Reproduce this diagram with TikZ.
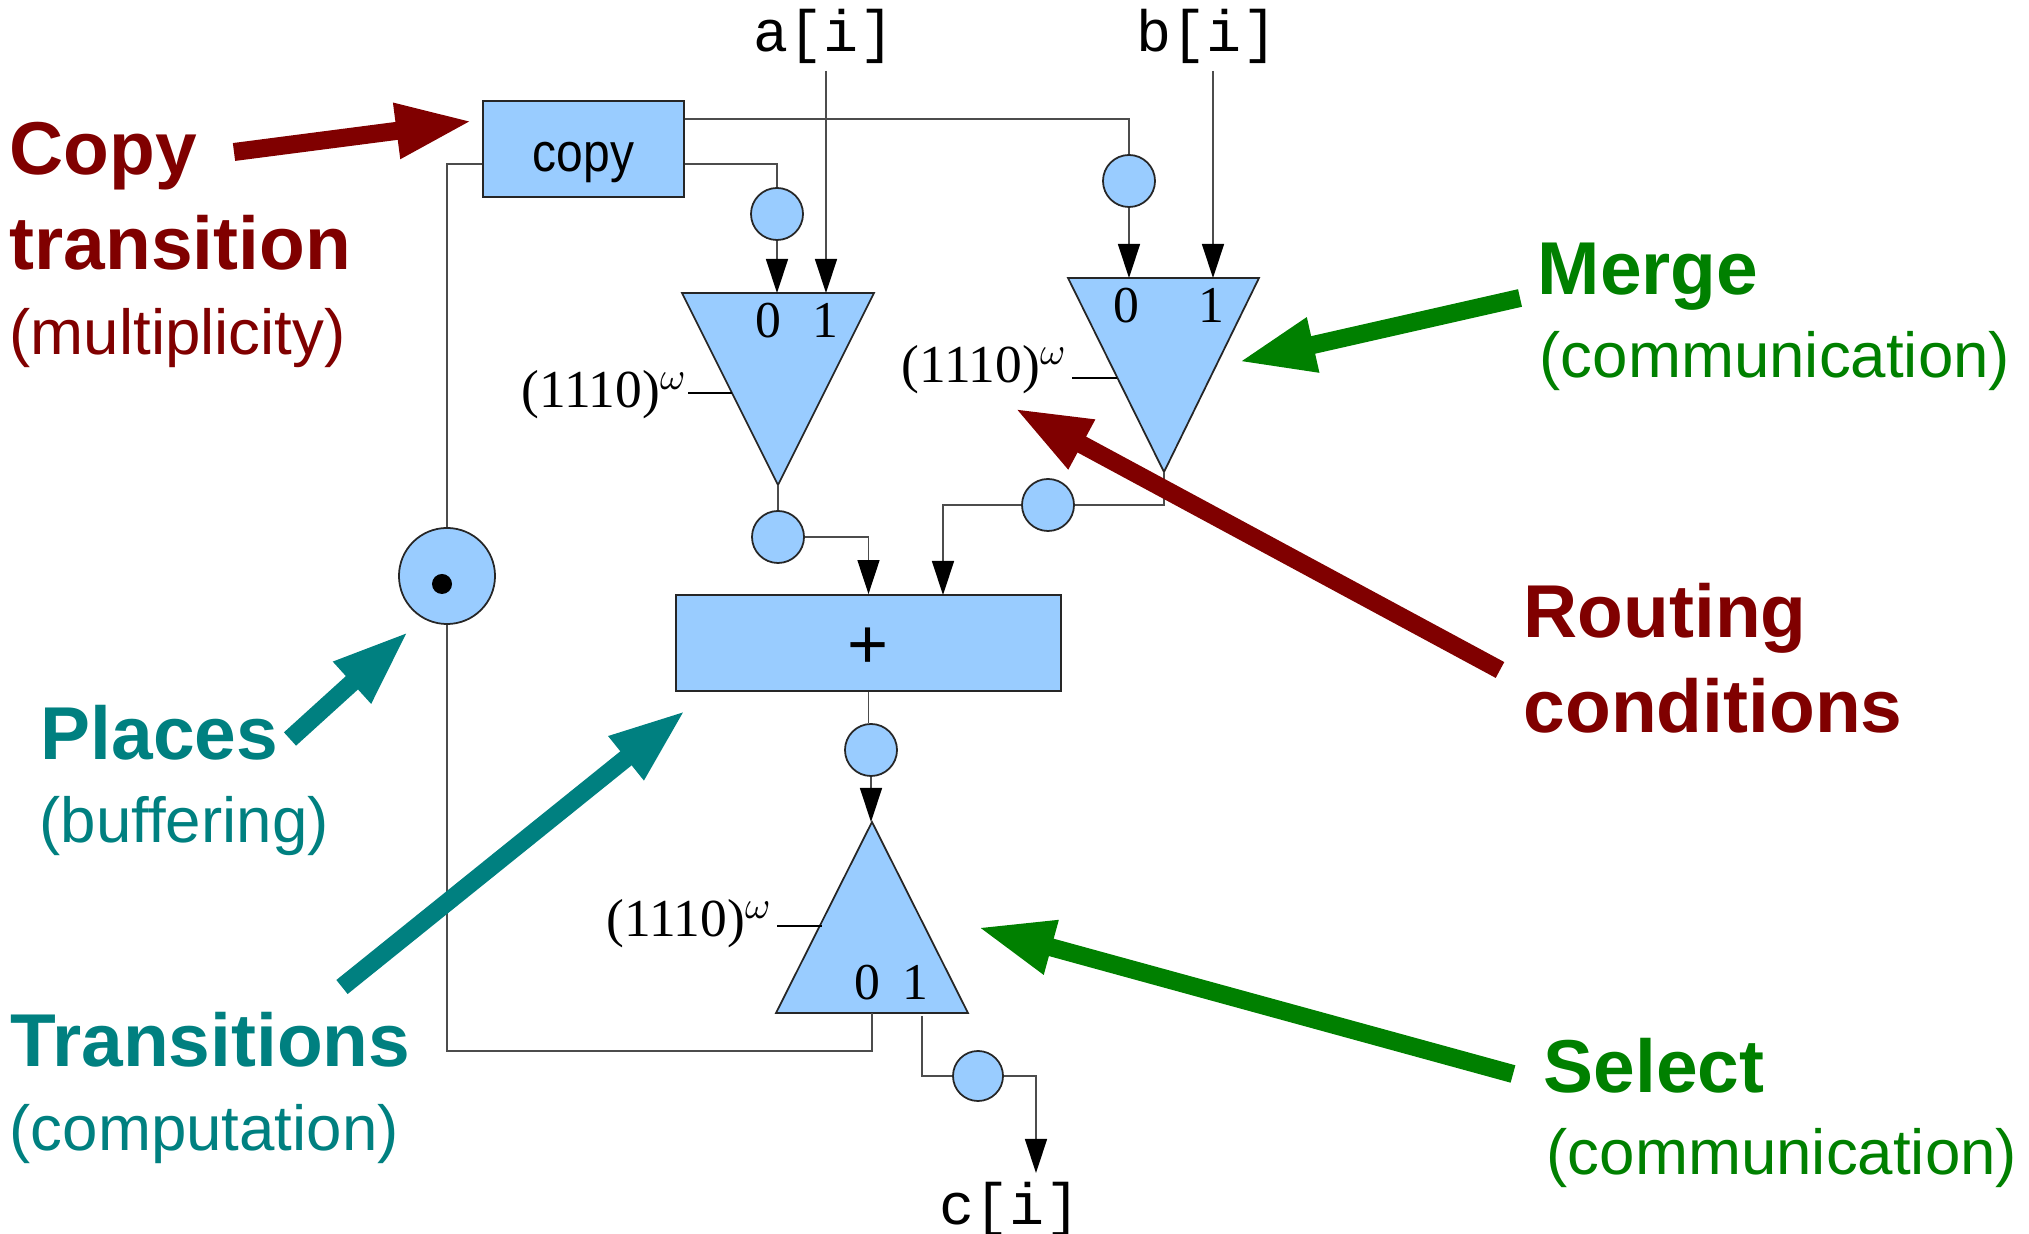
\documentclass[tikz,border=0pt]{standalone}
\usepackage{fontspec}
\setmainfont{Liberation Serif}
\newfontfamily\annotf{Liberation Sans}
\newfontfamily\monof{Liberation Mono}
\newfontfamily\copyf[FakeStretch=0.88]{Liberation Sans}
\usetikzlibrary{arrows.meta,calc}
\definecolor{fillblue}{HTML}{99CCFF}
\definecolor{dred}{HTML}{800000}
\definecolor{dgreen}{HTML}{008000}
\definecolor{dteal}{HTML}{008080}
\begin{document}
\begin{tikzpicture}[x=0.01cm,y=-0.01cm,
  wire/.style={draw=black!70,line width=0.4pt},
  arr/.style={wire,-{Triangle[length=0.34cm,width=0.22cm,color=black]}},
  box/.style={draw=black!85,fill=fillblue,line width=0.5pt,rectangle,inner sep=0pt},
  place/.style={draw=black!85,fill=fillblue,line width=0.5pt,circle,inner sep=0pt,minimum size=0.52cm},
  tri/.style={draw=black!85,fill=fillblue,line width=0.5pt,line join=miter},
  num/.style={font=\fontsize{14.7}{17}\selectfont,inner sep=0pt,anchor=base},
  ctrl/.style={font=\fontsize{15.2}{18}\selectfont,inner sep=0pt,anchor=base east},
  io/.style={font=\monof\fontsize{16.6}{20}\selectfont,inner sep=0pt,anchor=base},
  head/.style={font=\annotf\bfseries\fontsize{21.3}{25}\selectfont,inner sep=0pt,anchor=base west},
  sub/.style={font=\annotf\fontsize{18.1}{21}\selectfont,inner sep=0pt,anchor=base west},
  callout/.style={line width=0.18cm,-{Triangle[length=0.77cm,width=0.51cm]}},
]
\useasboundingbox (0,0) rectangle (2029,1234);

% ---------- transitions (boxes) ----------
\node[box,minimum width=2.01cm,minimum height=0.96cm,text height=0.55cm,text depth=0.11cm,
      font=\copyf\fontsize{15.5}{18}\selectfont] (copy) at (583.5,149) {copy};
\node[box,minimum width=3.85cm,minimum height=0.96cm,text height=0.5cm,text depth=0cm,
      font=\annotf\fontsize{20}{24}\selectfont] (plus) at (868.5,643) {+};

% ---------- triangles ----------
\coordinate (m1a) at (682,293); \coordinate (m1b) at (874,293); \coordinate (m1o) at (778,485);
\coordinate (m2a) at (1068,278); \coordinate (m2b) at (1259,278); \coordinate (m2o) at (1164,472);
\coordinate (sela) at (776,1013); \coordinate (selb) at (968,1013); \coordinate (selo) at (872,822);
\path[tri] (m1a) -- (m1b) -- (m1o) -- cycle;
\path[tri] (m2a) -- (m2b) -- (m2o) -- cycle;
\path[tri] (sela) -- (selb) -- (selo) -- cycle;

\node[num] (m1l0) at (768,338) {0};
\node[num] (m1l1) at (825,338) {1};
\node[num] (m2l0) at (1126,323) {0};
\node[num] (m2l1) at (1211,323) {1};
\node[num] (sell0) at (867,1000) {0};
\node[num] (sell1) at (915,1000) {1};

% ---------- places ----------
\node[place] (p1) at (777,214) {};
\node[place] (p2) at (1129,181) {};
\node[place] (p3) at (778,537) {};
\node[place] (p4) at (1048,505) {};
\node[place] (p5) at (871,750) {};
\node[place,minimum size=0.5cm] (p6) at (978,1076) {};
\node[place,minimum size=0.96cm] (pt) at (447,576) {};
\node[circle,fill=black,inner sep=0pt,minimum size=0.2cm] (tok) at (442,584) {};

% ---------- io labels ----------
\node[io] (ai) at (824,52) {a[i]};
\node[io] (bi) at (1207,52) {b[i]};
\node[io] (ci) at (1010,1225) {c[i]};
\coordinate (ain) at (826,71);
\coordinate (bin) at (1213,71);
\coordinate (m1in0) at (777,293);
\coordinate (m1in1) at (826,293);
\coordinate (m2in0) at (1129,278);
\coordinate (m2in1) at (1213,278);
\coordinate (plusin2) at (943,595);
\coordinate (sel0) at (872,1013);
\coordinate (sel1) at (922,1016);
\coordinate (cout) at (1036,1173);

% ---------- connectors ----------
\draw[arr] (ain) -- (m1in1);
\draw[arr] (bin) -- (m2in1);
\draw[wire] (copy.east) ++(0,-30) -| (p2.north);
\draw[arr] (p2.south) -- (m2in0);
\draw[wire] (copy.east) ++(0,15) -| (p1.north);
\draw[arr] (p1.south) -- (m1in0);
\draw[wire] (m1o) -- (p3.north);
\draw[arr] (p3.east) -| (plus.north);
\draw[wire] (m2o) -- ++(0,33) -- (p4.east);
\draw[arr] (p4.west) -| (plusin2);
\draw[wire] (plus.south) -- (plus.south |- p5.north);
\draw[arr] (p5.south) -- (p5.south |- selo);
\draw[wire] (sel0) -- ++(0,38) -| (pt.south);
\draw[wire] (pt.north) |- ($(copy.west)+(0,15)$);
\draw[wire] (sel1) |- (p6.west);
\draw[arr] (p6.east) -| (cout);

% ---------- routing condition labels ----------
\node[ctrl] (m1c) at (688,408) {(1110)$^\omega$};
\node[ctrl] (m2c) at (1068,383) {(1110)$^\omega$};
\node[ctrl] (selc) at (773,937) {(1110)$^\omega$};
\coordinate (m1e) at (732,393);
\coordinate (m2e) at (1117,378);
\coordinate (sele) at (822,926);
\draw[wire,draw=black] (m1e -| m1c.east) -- (m1e);
\draw[wire,draw=black] ([xshift=0.04cm]m2e -| m2c.east) -- (m2e);
\draw[wire,draw=black] ([xshift=0.04cm]sele -| selc.east) -- (sele);

% ---------- annotations ----------
\node[head,text=dred] (t1) at (9,175) {Copy};
\node[head,text=dred] (t2) at (9,270) {transition};
\node[sub,text=dred] (t3) at (9,355) {(multiplicity)};
\node[head,text=dgreen] (t4) at (1537,295) {Merge};
\node[sub,text=dgreen] (t5) at (1539,378) {(communication)};
\node[head,text=dred] (t6) at (1523,638) {Routing};
\node[head,text=dred] (t7) at (1523,733) {conditions};
\node[head,text=dteal] (t8) at (40,760) {Places};
\node[sub,text=dteal] (t9) at (39,843) {(buffering)};
\node[head,text=dteal] (t10) at (10,1067) {Transitions};
\node[sub,text=dteal] (t11) at (9,1151) {(computation)};
\node[head,text=dgreen] (t12) at (1543,1093) {Select};
\node[sub,text=dgreen] (t13) at (1546,1175) {(communication)};

\coordinate (a1s) at (234,152);  \coordinate (a1e) at (473,121);
\coordinate (a2s) at (1520,298); \coordinate (a2e) at (1238,362);
\coordinate (a3s) at (1500,670); \coordinate (a3e) at (1014,408);
\coordinate (a4s) at (290,739);  \coordinate (a4e) at (409,631);
\coordinate (a5s) at (342,987);  \coordinate (a5e) at (686,710);
\coordinate (a6s) at (1513,1074); \coordinate (a6e) at (977,927);
\draw[callout,draw=dred,fill=dred] (a1s) -- (a1e);
\draw[callout,draw=dgreen,fill=dgreen] (a2s) -- (a2e);
\draw[callout,draw=dred,fill=dred] (a3s) -- (a3e);
\draw[callout,draw=dteal,fill=dteal] (a4s) -- (a4e);
\draw[callout,draw=dteal,fill=dteal] (a5s) -- (a5e);
\draw[callout,draw=dgreen,fill=dgreen] (a6s) -- (a6e);
\end{tikzpicture}
\end{document}
